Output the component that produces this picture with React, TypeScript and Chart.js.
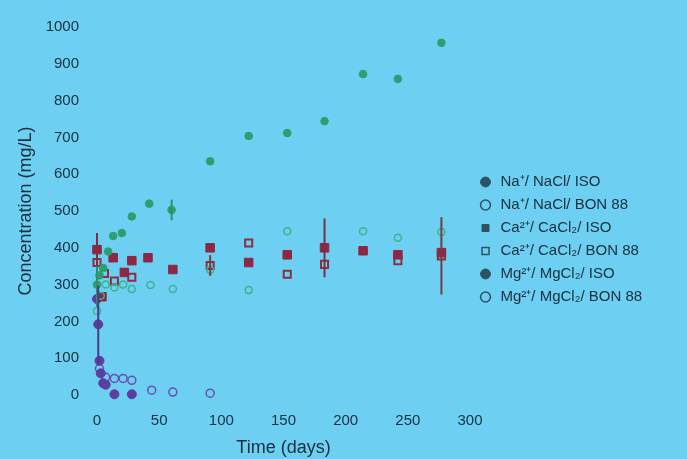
import React, { useEffect, useRef } from "react";
import { Chart, registerables } from "chart.js";

Chart.register(...registerables);

// ---------- data ----------
const xTickValues = [0, 50, 100, 150, 200, 250, 300];
const yTickValues = [0, 100, 200, 300, 400, 500, 600, 700, 800, 900, 1000];

const seriesLabels = [
  "Na⁺/ NaCl/ ISO",
  "Na⁺/ NaCl/ BON 88",
  "Ca²⁺/ CaCl₂/ ISO",
  "Ca²⁺/ CaCl₂/ BON 88",
  "Mg²⁺/ MgCl₂/ ISO",
  "Mg²⁺/ MgCl₂/ BON 88",
];

const naIsoDays = [0, 2, 5, 9, 13, 20, 28, 42, 60, 91, 122, 153, 183, 214, 242, 277];
const naIsoValues = [300, 325, 345, 390, 432, 440, 485, 520, 503, 635, 704, 712, 744, 872, 859, 957];
const naIsoErrors = [60, 0, 0, 0, 0, 0, 0, 0, 28, 0, 0, 0, 0, 0, 0, 0];

const naBonDays = [0, 3, 7, 14, 21, 28, 43, 61, 91, 122, 153, 214, 242, 277];
const naBonValues = [228, 270, 300, 292, 300, 288, 299, 288, 340, 285, 445, 445, 427, 443];
const naBonErrors = [0, 0, 0, 0, 0, 0, 0, 0, 0, 0, 0, 0, 0, 0];

const caIsoDays = [0, 4, 13, 22, 28, 41, 61, 91, 122, 153, 183, 214, 242, 277];
const caIsoValues = [395, 267, 373, 333, 365, 373, 341, 400, 360, 381, 400, 392, 381, 387];
const caIsoErrors = [45, 0, 0, 0, 0, 0, 0, 0, 0, 0, 80, 0, 0, 0];

const caBonDays = [0, 6, 14, 28, 91, 122, 153, 183, 242, 277];
const caBonValues = [360, 330, 310, 320, 352, 413, 328, 355, 365, 378];
const caBonErrors = [0, 0, 0, 0, 28, 0, 0, 0, 0, 105];

const mgIsoDays = [0, 1, 2, 3, 5, 7, 14, 28];
const mgIsoValues = [261, 192, 93, 59, 32, 28, 2, 2];
const mgIsoErrors = [0, 105, 0, 0, 0, 0, 0, 0];

const mgBonDays = [2, 7, 14, 21, 28, 44, 61, 91];
const mgBonValues = [72, 48, 45, 45, 40, 13, 8, 5];
const mgBonErrors = [0, 0, 0, 0, 0, 0, 0, 0];

// ---------- styles ----------
const BG = "#6dcff2";
const TEXT = "#182f3e";
const LEGEND_MARK = "#2c5364";
const FONT = "'Liberation Sans', Arial, sans-serif";

const toPoints = (xs: number[], ys: number[]) => xs.map((x, i) => ({ x, y: ys[i] }));

const errorSets = [naIsoErrors, naBonErrors, caIsoErrors, caBonErrors, mgIsoErrors, mgBonErrors];
const errorColors = ["#2e8f6a", "#3fae88", "#7a3040", "#7a3a40", "#4c3a8c", "#5a4aa0"];

const errorBarPlugin = {
  id: "errorBars",
  afterDatasetsDraw(chart: any) {
    const { ctx, scales } = chart;
    ctx.save();
    chart.data.datasets.forEach((ds: any, di: number) => {
      const errs = errorSets[di];
      ds.data.forEach((p: any, i: number) => {
        const e = errs[i];
        if (!e) return;
        const x = scales.x.getPixelForValue(p.x);
        const y1 = scales.y.getPixelForValue(p.y - e);
        const y2 = scales.y.getPixelForValue(p.y + e);
        ctx.strokeStyle = errorColors[di];
        ctx.lineWidth = 2;
        ctx.beginPath();
        ctx.moveTo(x, y1);
        ctx.lineTo(x, y2);
        ctx.stroke();
      });
    });
    ctx.restore();
  },
};

const legendWidthPlugin = {
  id: "legendWidth",
  beforeLayout(chart: any) {
    const lg = chart.legend;
    if (lg && !lg.__patched) {
      const orig = lg.fit;
      lg.fit = function () {
        orig.call(this);
        this.width = 217;
      };
      lg.__patched = true;
    }
  },
};

export default function App() {
  const ref = useRef<HTMLCanvasElement>(null);

  useEffect(() => {
    document.body.style.margin = "0";
    document.body.style.background = BG;
    const canvas = ref.current!;
    const chart = new Chart(canvas, {
      type: "scatter",
      data: {
        datasets: [
          {
            label: seriesLabels[0],
            data: toPoints(naIsoDays, naIsoValues),
            pointStyle: "circle",
            pointRadius: 3.8,
            backgroundColor: "#2e9e70",
            borderColor: "#2e9e70",
            borderWidth: 1,
          },
          {
            label: seriesLabels[1],
            data: toPoints(naBonDays, naBonValues),
            pointStyle: "circle",
            pointRadius: 3.5,
            backgroundColor: "rgba(0,0,0,0)",
            borderColor: "#3db38a",
            borderWidth: 1.5,
          },
          {
            label: seriesLabels[2],
            data: toPoints(caIsoDays, caIsoValues),
            pointStyle: "rect",
            pointRadius: 6,
            backgroundColor: "#8c2744",
            borderColor: "#8c2744",
            borderWidth: 1,
          },
          {
            label: seriesLabels[3],
            data: toPoints(caBonDays, caBonValues),
            pointStyle: "rect",
            pointRadius: 5,
            backgroundColor: "rgba(0,0,0,0)",
            borderColor: "#8a3040",
            borderWidth: 2,
          },
          {
            label: seriesLabels[4],
            data: toPoints(mgIsoDays, mgIsoValues),
            pointStyle: "circle",
            pointRadius: 4.5,
            backgroundColor: "#5b3f9e",
            borderColor: "#5b3f9e",
            borderWidth: 1,
          },
          {
            label: seriesLabels[5],
            data: toPoints(mgBonDays, mgBonValues),
            pointStyle: "circle",
            pointRadius: 4,
            backgroundColor: "rgba(0,0,0,0)",
            borderColor: "#6650b0",
            borderWidth: 1.5,
          },
        ],
      },
      options: {
        animation: false,
        responsive: false,
        devicePixelRatio: 1,
        clip: false as any,
        layout: { padding: { top: 20, left: 0, right: 0, bottom: 0 } },
        plugins: {
          tooltip: { enabled: false },
          legend: {
            position: "right",
            labels: {
              usePointStyle: true,
              boxHeight: 7,
              padding: 8,
              color: TEXT,
              font: { family: FONT, size: 15 },
              generateLabels(chart: any) {
                return chart.data.datasets.map((ds: any, i: number) => {
                  const open = i % 2 === 1;
                  return {
                    text: ds.label,
                    fillStyle: open ? "rgba(0,0,0,0)" : LEGEND_MARK,
                    strokeStyle: LEGEND_MARK,
                    lineWidth: open ? 1.5 : 1,
                    pointStyle: ds.pointStyle,
                    hidden: false,
                    datasetIndex: i,
                    fontColor: TEXT,
                  };
                });
              },
            },
          },
        },
        scales: {
          x: {
            type: "linear",
            min: 0,
            max: 300,
            afterBuildTicks: (s: any) => {
              s.ticks = xTickValues.map((v) => ({ value: v }));
            },
            afterFit: (s: any) => {
              s.height = 64;
            },
            grid: { display: false, drawTicks: false },
            border: { display: false },
            ticks: {
              padding: 17,
              color: TEXT,
              maxRotation: 0,
              font: { family: FONT, size: 15 },
              callback: (v: any) => String(v),
            },
            title: {
              display: true,
              text: "Time (days)",
              color: TEXT,
              padding: { top: 0, bottom: 0 },
              font: { family: FONT, size: 18 },
            },
          },
          y: {
            type: "linear",
            min: 0,
            max: 1000,
            afterBuildTicks: (s: any) => {
              s.ticks = yTickValues.map((v) => ({ value: v }));
            },
            afterFit: (s: any) => {
              s.width = 97;
            },
            grid: { display: false, drawTicks: false },
            border: { display: false },
            ticks: {
              padding: 18,
              color: TEXT,
              font: { family: FONT, size: 15 },
              callback: (v: any) => String(v),
            },
            title: {
              display: true,
              text: "Concentration (mg/L)",
              color: TEXT,
              padding: { top: 15, bottom: 0 },
              font: { family: FONT, size: 18 },
            },
          },
        },
      },
      plugins: [errorBarPlugin, legendWidthPlugin],
    } as any);
    return () => chart.destroy();
  }, []);

  return (
    <div style={{ width: 687, height: 459, background: BG }}>
      <canvas ref={ref} width={687} height={459} style={{ display: "block" }} />
    </div>
  );
}
